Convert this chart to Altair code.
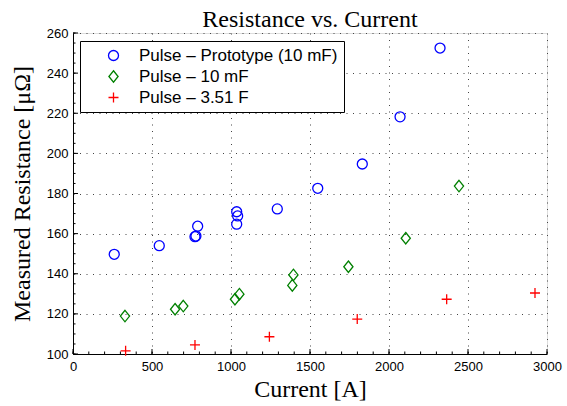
import altair as alt
import pandas as pd

# ---- data ----
proto_x = [261, 546, 772, 778, 789, 1036, 1042, 1036, 1293, 1549, 1831, 2070, 2323]
proto_y = [149.7, 154.0, 158.5, 158.8, 163.7, 170.9, 168.8, 164.7, 172.3, 182.6, 194.7, 218.2, 252.5]

mf10_x = [329, 646, 698, 1025, 1053, 1388, 1395, 1743, 2106, 2443]
mf10_y = [118.9, 122.3, 123.9, 127.3, 129.8, 134.2, 139.4, 143.5, 157.7, 183.7]

f351_x = [333, 772, 1243, 1799, 2365, 2924]
f351_y = [101.6, 104.5, 108.6, 117.4, 127.3, 130.4]

series_names = ["Pulse \u2013 Prototype (10 mF)", "Pulse \u2013 10 mF", "Pulse \u2013 3.51 F"]
series_colors = ["#0000ff", "#008000", "#ff0000"]

x_ticks = [0, 500, 1000, 1500, 2000, 2500, 3000]
y_ticks = [100, 120, 140, 160, 180, 200, 220, 240, 260]
x_minor = list(range(0, 3001, 100))
y_minor = list(range(100, 261, 5))

W, H = 474, 321
PLUS = "M-1,0L1,0M0,-1L0,1"
DIAMOND = "M0,-1.15L0.92,0L0,1.15L-0.92,0Z"

rows = []
for name, xs, ys in zip(series_names, [proto_x, mf10_x, f351_x], [proto_y, mf10_y, f351_y]):
    for a, b in zip(xs, ys):
        rows.append({"Current": a, "Resistance": b, "Series": name})
df = pd.DataFrame(rows)

xscale = alt.Scale(domain=[0, 3000], nice=False, zero=False)
yscale = alt.Scale(domain=[100, 260], nice=False, zero=False)

xaxis = alt.Axis(values=x_ticks, format="d", title="Current [A]", grid=True, ticks=False,
                 labelFont="Liberation Sans", labelFontSize=13, labelColor="black",
                 labelPadding=6, titleFont="Liberation Serif", titleFontSize=24,
                 titleFontWeight="normal", titleColor="black", titlePadding=4,
                 domainColor="black", domainWidth=1,
                 gridColor="#444", gridDash=[1, 5.5], gridWidth=1,
                 labelFlush=False)
yaxis = alt.Axis(values=y_ticks, format="d", title="Measured Resistance [\u03bc\u03a9]", grid=True, ticks=False,
                 labelFont="Liberation Sans", labelFontSize=13, labelColor="black",
                 labelPadding=5, titleFont="Liberation Serif", titleFontSize=24,
                 titleFontWeight="normal", titleColor="black", titlePadding=12,
                 domainColor="black", domainWidth=1,
                 gridColor="#444", gridDash=[1, 5.5], gridWidth=1,
                 labelFlush=False)

points = alt.Chart(df).mark_point(filled=False, size=100, strokeWidth=1.3, opacity=1).encode(
    x=alt.X("Current:Q", scale=xscale, axis=xaxis),
    y=alt.Y("Resistance:Q", scale=yscale, axis=yaxis),
    color=alt.Color("Series:N", scale=alt.Scale(domain=series_names, range=series_colors),
                    legend=alt.Legend(orient="none", legendX=7, legendY=8, title=None,
                                      strokeColor="black", fillColor="white", padding=6,
                                      labelFont="Liberation Sans", labelFontSize=17,
                                      labelColor="black", labelLimit=400,
                                      symbolSize=100, symbolStrokeWidth=1.3,
                                      symbolOffset=19, labelOffset=17, rowPadding=3)),
    shape=alt.Shape("Series:N", scale=alt.Scale(domain=series_names, range=["circle", DIAMOND, PLUS]),
                    legend=alt.Legend(orient="none", legendX=7, legendY=8, title=None)),
)

xt = pd.DataFrame({"Current": x_ticks})
yt = pd.DataFrame({"Resistance": y_ticks})
xm = pd.DataFrame({"Current": x_minor})
ym = pd.DataFrame({"Resistance": y_minor})

x_major = alt.Chart(xt).mark_rule(color="black", strokeWidth=1).encode(
    x=alt.X("Current:Q", scale=xscale, axis=xaxis), y=alt.value(H), y2=alt.value(H - 5))
x_min = alt.Chart(xm).mark_rule(color="black", strokeWidth=1).encode(
    x=alt.X("Current:Q", scale=xscale, axis=xaxis), y=alt.value(H), y2=alt.value(H - 2.5))
y_major = alt.Chart(yt).mark_rule(color="black", strokeWidth=1).encode(
    y=alt.Y("Resistance:Q", scale=yscale, axis=yaxis), x=alt.value(0), x2=alt.value(5))
y_min = alt.Chart(ym).mark_rule(color="black", strokeWidth=1).encode(
    y=alt.Y("Resistance:Q", scale=yscale, axis=yaxis), x=alt.value(0), x2=alt.value(2.5))

chart = alt.layer(x_major, x_min, y_major, y_min, points).properties(
    width=W, height=H,
    title=alt.Title("Resistance vs. Current", font="Liberation Serif", fontSize=24,
                    fontWeight="normal", color="black", offset=0, dy=5),
    autosize=alt.AutoSizeParams(type="none"),
    padding={"left": 73, "top": 33, "right": 20, "bottom": 52},
).configure_view(stroke=None).configure(background="white")

chart.save("out.html", embed_options={"renderer": "svg", "actions": False})
